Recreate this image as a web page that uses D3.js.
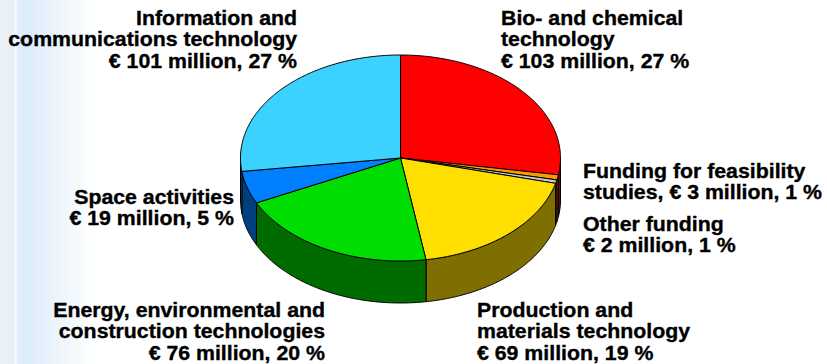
<!DOCTYPE html>
<html>
<head>
<meta charset="utf-8">
<script src="https://cdn.jsdelivr.net/npm/d3@7"></script>
<style>
  html, body { margin: 0; padding: 0; background: #ffffff; }
  svg { display: block; }
  text { font-family: "Liberation Sans", Arial, sans-serif; font-weight: bold; fill: #000; stroke: #000; stroke-width: 0.35px; }
</style>
</head>
<body>
<svg id="chart" width="827" height="364"></svg>
<script>
// Funding by field, in € million, clockwise from twelve o'clock
const categories = [
  "Bio- and chemical technology",
  "Funding for feasibility studies",
  "Other funding",
  "Production and materials technology",
  "Energy, environmental and construction technologies",
  "Space activities",
  "Information and communications technology"
];
const fundingMillion = [103, 3, 2, 69, 76, 19, 101];
const sharePercent = [27, 1, 1, 19, 20, 5, 27];

// Label text per slice; {v} is replaced by the amount/share line
const labelTemplates = [
  ["Bio- and chemical", "technology", "{v}"],
  ["Funding for feasibility", "studies, {v}"],
  ["Other funding", "{v}"],
  ["Production and", "materials technology", "{v}"],
  ["Energy, environmental and", "construction technologies", "{v}"],
  ["Space activities", "{v}"],
  ["Information and", "communications technology", "{v}"]
];

const topColors  = ["#ff0000", "#ff9900", "#c8c8c8", "#ffdf00", "#00dd00", "#0080ff", "#3cd2ff"];
const sideColors = ["#800000", "#804c00", "#646464", "#7f6f00", "#006c00", "#00407f", "#1e6980"];

// Label layout: anchor, x, first baseline
const labelLayout = [
  { anchor: "start", x: 501, y: 25 },
  { anchor: "start", x: 583, y: 178 },
  { anchor: "start", x: 583, y: 231 },
  { anchor: "start", x: 477, y: 317 },
  { anchor: "end",   x: 325, y: 317 },
  { anchor: "end",   x: 234, y: 204 },
  { anchor: "end",   x: 297, y: 25 }
];
const lineStep = 21.5;
const stretchX = 1.065;

const svg = d3.select("#chart");
const W = 827, H = 364;

// Faint slide backdrop along the left edge
const defs = svg.append("defs");
const grad = defs.append("linearGradient").attr("id", "edge").attr("x1", 0).attr("x2", 1).attr("y1", 0).attr("y2", 0);
grad.append("stop").attr("offset", 0).attr("stop-color", "#eef1f4");
grad.append("stop").attr("offset", 0.18).attr("stop-color", "#e3eef8");
grad.append("stop").attr("offset", 0.3).attr("stop-color", "#dcecf9");
grad.append("stop").attr("offset", 0.65).attr("stop-color", "#eef6fc");
grad.append("stop").attr("offset", 1).attr("stop-color", "#ffffff");
svg.append("rect").attr("x", 0).attr("y", 0).attr("width", 95).attr("height", H).attr("fill", "url(#edge)");
svg.append("rect").attr("x", 14).attr("y", 0).attr("width", 3).attr("height", H).attr("fill", "#f6f8fa").attr("opacity", 0.8);

// 3D pie geometry
const cx = 400.5, cy = 158, rx = 160, ry = 103, depth = 42;

const pie = d3.pie().sort(null).startAngle(0).endAngle(2 * Math.PI);
const arcs = pie(fundingMillion);

const px = a => cx + rx * Math.sin(a);
const py = a => cy - ry * Math.cos(a);

function samples(a0, a1) {
  const n = Math.max(2, Math.ceil((a1 - a0) / 0.01));
  return d3.range(n + 1).map(i => a0 + (a1 - a0) * i / n);
}

const line = d3.line();

// Side walls: only the front half (angles between 90° and 270°) is visible
const front0 = Math.PI / 2, front1 = 3 * Math.PI / 2;
const gSide = svg.append("g");
arcs.forEach((d, i) => {
  const a0 = Math.max(d.startAngle, front0);
  const a1 = Math.min(d.endAngle, front1);
  if (a1 <= a0) return;
  const s = samples(a0, a1);
  const pts = s.map(a => [px(a), py(a)])
    .concat(s.slice().reverse().map(a => [px(a), py(a) + depth]));
  gSide.append("path")
    .attr("d", line(pts) + "Z")
    .attr("fill", sideColors[i])
    .attr("stroke", "#000")
    .attr("stroke-width", 1)
    .attr("stroke-linejoin", "round");
});

// Top faces
const gTop = svg.append("g");
arcs.forEach((d, i) => {
  const s = samples(d.startAngle, d.endAngle);
  const pts = [[cx, cy]].concat(s.map(a => [px(a), py(a)]));
  gTop.append("path")
    .attr("d", line(pts) + "Z")
    .attr("fill", topColors[i])
    .attr("stroke", "#000")
    .attr("stroke-width", 1)
    .attr("stroke-linejoin", "round");
});

// Labels (slightly widened lettering)
const gLab = svg.append("g");
categories.forEach((c, i) => {
  const valueText = "€ " + fundingMillion[i] + " million, " + sharePercent[i] + " %";
  const L = labelLayout[i];
  const t = gLab.append("g")
    .attr("transform", `translate(${L.x},${L.y}) scale(${stretchX},1)`)
    .append("text")
    .attr("text-anchor", L.anchor)
    .attr("font-size", 20);
  labelTemplates[i].forEach((ln, k) => {
    t.append("tspan")
      .attr("x", 0)
      .attr("y", k * lineStep)
      .text(ln.replace("{v}", valueText));
  });
});
</script>
</body>
</html>
